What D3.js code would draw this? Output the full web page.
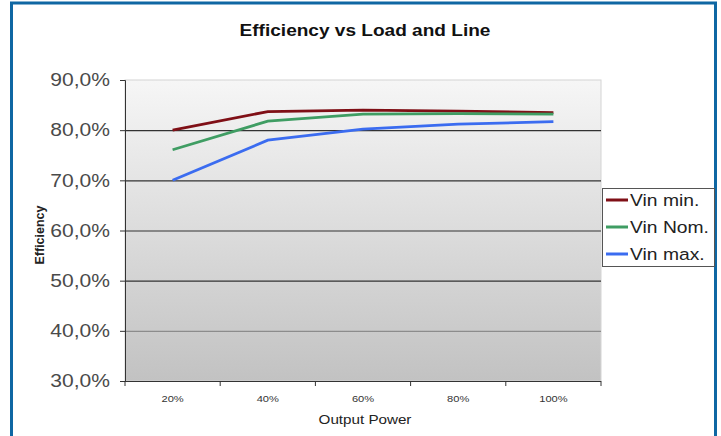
<!DOCTYPE html>
<html>
<head>
<meta charset="utf-8">
<script src="https://cdn.jsdelivr.net/npm/d3@7"></script>
<style>
  body { margin: 0; background: #fff; }
  svg { display: block; font-family: "Liberation Sans", Arial, sans-serif; }
</style>
</head>
<body>
<div id="chart"></div>
<script>
var WIDTH = 721;
var HEIGHT = 436;

// data
const loads = ["20%", "40%", "60%", "80%", "100%"];
const vinMin = [80.0, 83.7, 84.0, 83.8, 83.5];
const vinNom = [76.1, 81.8, 83.2, 83.3, 83.2];
const vinMax = [70.0, 78.0, 80.2, 81.2, 81.7];
const yTicks = [30, 40, 50, 60, 70, 80, 90];
const seriesNames = ["Vin min.", "Vin Nom.", "Vin max."];
const seriesColors = ["#7f0f16", "#3f9d63", "#3b6cf0"];

const series = [vinMin, vinNom, vinMax];

// the original picture is a bit stretched sideways, text follows that
const SX = 1.17;

const LEFT = 125, RIGHT = 601, TOP = 80, BOTTOM = 381;

const svg = d3.select("#chart").append("svg").attr("width", WIDTH).attr("height", HEIGHT);

// blue frame
svg.append("rect").attr("x", 11.5).attr("y", 3).attr("width", 704).attr("height", 460)
    .attr("fill", "white").attr("stroke", "#0f67a3").attr("stroke-width", 3);

const defs = svg.append("defs");
const grad = defs.append("linearGradient").attr("id", "bg").attr("x1", 0).attr("y1", 0).attr("x2", 0).attr("y2", 1);
grad.append("stop").attr("offset", "0%").attr("stop-color", "#f6f6f6");
grad.append("stop").attr("offset", "100%").attr("stop-color", "#c2c2c2");

const x = d3.scaleBand().domain(loads).range([LEFT, RIGHT]);
const y = d3.scaleLinear().domain([30, 90]).range([BOTTOM, TOP]);

function stretched(parent, px, py, txt) {
    return parent.append("g").attr("transform", "translate(" + px + "," + py + ") scale(" + SX + ",1)")
        .append("text").text(txt);
}

// plot area
svg.append("rect").attr("x", LEFT).attr("y", TOP).attr("width", RIGHT - LEFT).attr("height", BOTTOM - TOP)
    .attr("fill", "url(#bg)").attr("stroke", "#d4d4d4").attr("stroke-width", 1);

// gridlines
svg.append("g").selectAll("line").data(yTicks.filter(d => d > 30 && d < 90)).enter().append("line")
    .attr("x1", LEFT).attr("x2", RIGHT).attr("y1", d => y(d) + 0.5).attr("y2", d => y(d) + 0.5)
    .attr("stroke", d => d == 40 ? "#8c8c8c" : "#333").attr("stroke-width", 1.2);

// y axis
const gen_y = d3.axisLeft(y).tickValues(yTicks).tickSize(5).tickPadding(10)
    .tickFormat(d => d3.format(".1f")(d).replace(".", ",") + "%");
const yAxis = svg.append("g").attr("transform", "translate(" + LEFT + ",0)").call(gen_y);
yAxis.select(".domain").attr("stroke", "#333");
yAxis.selectAll(".tick line").attr("stroke", "#333");
yAxis.selectAll("text").attr("font-size", 18).attr("fill", "#4a4a4a")
    .attr("font-family", "Liberation Sans, Arial, sans-serif")
    .attr("transform", "scale(" + SX + ",1)").attr("x", -15 / SX);

// x axis
const xTickPos = loads.map(d => x(d)).concat([RIGHT]);
const xAxis = svg.append("g");
xAxis.append("line").attr("x1", LEFT - 4).attr("x2", RIGHT).attr("y1", BOTTOM + 0.5).attr("y2", BOTTOM + 0.5).attr("stroke", "#333");
xAxis.selectAll(".xt").data(xTickPos).enter().append("line").attr("class", "xt")
    .attr("x1", d => d).attr("x2", d => d).attr("y1", BOTTOM).attr("y2", BOTTOM + 5).attr("stroke", "#333");
loads.forEach(d => {
    stretched(xAxis, x(d) + x.bandwidth() / 2, 402, d).attr("text-anchor", "middle")
        .attr("font-size", 9.5).attr("fill", "#333");
});

// titles
stretched(svg, 365, 36, "Efficiency vs Load and Line").attr("text-anchor", "middle")
    .attr("font-size", 16.3).attr("font-weight", "bold").attr("fill", "#111");
stretched(svg, 365, 424, "Output Power").attr("text-anchor", "middle")
    .attr("font-size", 13).attr("fill", "#222");
svg.append("text").attr("transform", "translate(44,235) rotate(270)").attr("text-anchor", "middle")
    .attr("font-size", 12.5).attr("font-weight", "bold").attr("fill", "#222").text("Efficiency");

// lines
const line = d3.line().x((d, i) => x(loads[i]) + x.bandwidth() / 2).y(d => y(d));
series.forEach((s, i) => {
    svg.append("path").datum(s).attr("d", line).attr("fill", "none")
        .attr("stroke", seriesColors[i]).attr("stroke-width", 2.8);
});

// legend
const legend = svg.append("g").attr("transform", "translate(602,188)");
legend.append("rect").attr("x", 0.5).attr("y", 0.5).attr("width", 112).attr("height", 78)
    .attr("fill", "white").attr("stroke", "#555");
seriesNames.forEach((name, i) => {
    const row = legend.append("g").attr("transform", "translate(0," + (12 + i * 27) + ")");
    row.append("line").attr("x1", 4).attr("x2", 26).attr("y1", 0).attr("y2", 0)
        .attr("stroke", seriesColors[i]).attr("stroke-width", 3);
    stretched(row, 28, 6, name).attr("font-size", 16.5).attr("fill", "#222");
});
</script>
</body>
</html>
